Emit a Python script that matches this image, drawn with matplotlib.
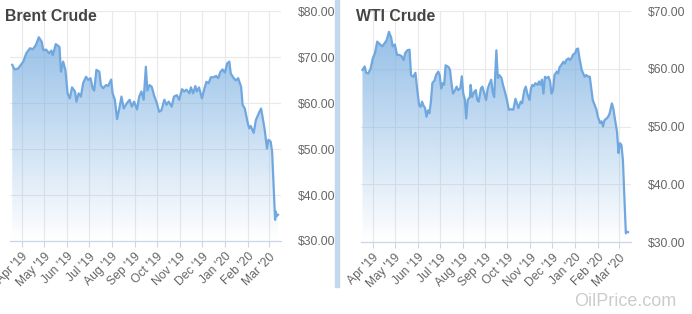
import matplotlib
matplotlib.use('Agg')
import matplotlib.pyplot as plt
import matplotlib.dates as mdates
import numpy as np
import pandas as pd
from matplotlib.patches import Rectangle

plt.rcParams['font.family'] = ['Liberation Sans', 'DejaVu Sans']

# ---------------- data ----------------
brent_dates = [
    "2019-03-19", "2019-03-22", "2019-03-27", "2019-04-03", "2019-04-07", "2019-04-12",
    "2019-04-16", "2019-04-20", "2019-04-24", "2019-04-28", "2019-04-30", "2019-05-04",
    "2019-05-08", "2019-05-11", "2019-05-13", "2019-05-17", "2019-05-22", "2019-05-24",
    "2019-05-27", "2019-05-30", "2019-06-02", "2019-06-05", "2019-06-08", "2019-06-12",
    "2019-06-14", "2019-06-17", "2019-06-20", "2019-06-23", "2019-06-27", "2019-06-30",
    "2019-07-03", "2019-07-06", "2019-07-08", "2019-07-11", "2019-07-15", "2019-07-17",
    "2019-07-20", "2019-07-24", "2019-07-27", "2019-07-31", "2019-08-02", "2019-08-05",
    "2019-08-08", "2019-08-11", "2019-08-14", "2019-08-17", "2019-08-21", "2019-08-25",
    "2019-08-28", "2019-08-31", "2019-09-04", "2019-09-07", "2019-09-10", "2019-09-13",
    "2019-09-16", "2019-09-18", "2019-09-21", "2019-09-24", "2019-09-27", "2019-10-01",
    "2019-10-04", "2019-10-07", "2019-10-11", "2019-10-14", "2019-10-17", "2019-10-21",
    "2019-10-24", "2019-10-28", "2019-10-31", "2019-11-04", "2019-11-07", "2019-11-10",
    "2019-11-14", "2019-11-16", "2019-11-19", "2019-11-22", "2019-11-24", "2019-11-27",
    "2019-12-01", "2019-12-04", "2019-12-07", "2019-12-10", "2019-12-13", "2019-12-17",
    "2019-12-20", "2019-12-23", "2019-12-26", "2019-12-29", "2020-01-01", "2020-01-04",
    "2020-01-07", "2020-01-09", "2020-01-13", "2020-01-16", "2020-01-19", "2020-01-23",
    "2020-01-25", "2020-01-28", "2020-02-01", "2020-02-03", "2020-02-05", "2020-02-09",
    "2020-02-12", "2020-02-16", "2020-02-19", "2020-02-21", "2020-02-24", "2020-02-27",
    "2020-02-29", "2020-03-03", "2020-03-05", "2020-03-09", "2020-03-10", "2020-03-11",
    "2020-03-13",
]
brent_values = [
    68.3, 67.3, 67.5, 69.0, 70.8, 71.9,
    71.7, 72.6, 74.3, 73.3, 71.5, 71.6,
    70.8, 71.4, 70.4, 72.8, 72.2, 66.8,
    69.0, 67.2, 62.1, 61.0, 63.4, 62.5,
    60.3, 62.1, 61.4, 64.3, 65.7, 65.0,
    65.4, 63.2, 62.7, 67.2, 66.8, 63.9,
    63.2, 63.9, 63.7, 65.1, 62.1, 60.7,
    56.5, 58.8, 61.4, 58.8, 59.9, 60.7,
    59.2, 60.3, 58.6, 61.4, 62.5, 60.7,
    67.9, 62.7, 63.9, 63.5, 61.7, 59.9,
    58.1, 58.4, 60.7, 59.6, 60.3, 59.2,
    61.4, 61.7, 60.7, 63.0, 62.5, 62.9,
    62.1, 63.4, 62.1, 63.7, 62.5, 63.4,
    61.0, 63.0, 64.6, 64.3, 65.6, 65.6,
    65.9, 65.4, 66.8, 67.3, 66.6, 68.6,
    69.0, 66.4, 65.4, 64.9, 65.4, 63.5,
    59.6, 58.8, 55.6, 54.5, 55.0, 53.5,
    56.3, 57.8, 58.8, 57.0, 54.1, 50.1,
    52.0, 51.6, 49.4, 34.6, 36.4, 35.4,
    35.7,
]

wti_dates = [
    "2019-03-18", "2019-03-21", "2019-03-23", "2019-03-26", "2019-03-29", "2019-04-01",
    "2019-04-04", "2019-04-07", "2019-04-11", "2019-04-14", "2019-04-17", "2019-04-20",
    "2019-04-23", "2019-04-26", "2019-04-28", "2019-05-01", "2019-05-04", "2019-05-07",
    "2019-05-10", "2019-05-13", "2019-05-15", "2019-05-18", "2019-05-21", "2019-05-23",
    "2019-05-26", "2019-05-29", "2019-05-31", "2019-06-03", "2019-06-05", "2019-06-07",
    "2019-06-09", "2019-06-11", "2019-06-13", "2019-06-15", "2019-06-17", "2019-06-19",
    "2019-06-21", "2019-06-24", "2019-06-26", "2019-06-29", "2019-07-01", "2019-07-03",
    "2019-07-05", "2019-07-07", "2019-07-09", "2019-07-13", "2019-07-15", "2019-07-17",
    "2019-07-19", "2019-07-22", "2019-07-24", "2019-07-26", "2019-07-29", "2019-07-31",
    "2019-08-02", "2019-08-04", "2019-08-06", "2019-08-08", "2019-08-11", "2019-08-12",
    "2019-08-14", "2019-08-17", "2019-08-19", "2019-08-21", "2019-08-23", "2019-08-26",
    "2019-08-28", "2019-08-30", "2019-09-02", "2019-09-04", "2019-09-06", "2019-09-09",
    "2019-09-11", "2019-09-13", "2019-09-16", "2019-09-18", "2019-09-20", "2019-09-23",
    "2019-09-25", "2019-09-27", "2019-09-30", "2019-10-03", "2019-10-06", "2019-10-09",
    "2019-10-12", "2019-10-14", "2019-10-16", "2019-10-19", "2019-10-21", "2019-10-24",
    "2019-10-26", "2019-10-28", "2019-10-31", "2019-11-02", "2019-11-04", "2019-11-06",
    "2019-11-08", "2019-11-11", "2019-11-13", "2019-11-15", "2019-11-17", "2019-11-19",
    "2019-11-21", "2019-11-23", "2019-11-26", "2019-11-28", "2019-11-30", "2019-12-02",
    "2019-12-04", "2019-12-07", "2019-12-09", "2019-12-11", "2019-12-13", "2019-12-16",
    "2019-12-18", "2019-12-20", "2019-12-23", "2019-12-25", "2019-12-27", "2019-12-29",
    "2020-01-01", "2020-01-03", "2020-01-05", "2020-01-07", "2020-01-10", "2020-01-12",
    "2020-01-14", "2020-01-16", "2020-01-18", "2020-01-21", "2020-01-23", "2020-01-25",
    "2020-01-28", "2020-01-30", "2020-02-01", "2020-02-04", "2020-02-06", "2020-02-08",
    "2020-02-10", "2020-02-13", "2020-02-15", "2020-02-17", "2020-02-20", "2020-02-22",
    "2020-02-24", "2020-02-27", "2020-02-29", "2020-03-02", "2020-03-04", "2020-03-06",
    "2020-03-09", "2020-03-10", "2020-03-11", "2020-03-13",
]
wti_values = [
    59.8, 60.4, 59.3, 59.2, 60.0, 61.8,
    62.7, 64.7, 64.2, 63.9, 64.4, 65.0,
    66.4, 65.4, 63.9, 64.2, 62.4, 62.4,
    62.2, 61.5, 62.7, 63.2, 63.3, 58.9,
    58.6, 59.3, 56.9, 53.7, 53.4, 54.3,
    53.6, 53.2, 51.7, 52.8, 52.3, 54.3,
    57.5, 58.0, 58.9, 59.5, 58.9, 56.6,
    57.5, 57.2, 60.6, 60.3, 59.8, 57.5,
    55.7, 56.3, 56.9, 56.3, 56.6, 58.7,
    55.7, 54.8, 51.4, 54.6, 55.1, 57.2,
    55.1, 56.0, 56.3, 54.6, 54.3, 56.6,
    56.9, 56.0, 54.6, 56.4, 57.2, 58.1,
    56.0, 55.1, 63.2, 58.4, 58.9, 58.4,
    57.2, 56.3, 54.8, 52.9, 53.0, 52.9,
    54.8, 54.0, 53.2, 54.3, 54.0, 56.3,
    56.9, 55.7, 54.6, 56.6, 57.2, 57.0,
    57.5, 57.2, 57.8, 57.2, 58.1, 55.7,
    58.6, 58.4, 58.6, 57.8, 55.7, 56.3,
    58.9, 59.5, 59.2, 60.3, 60.6, 61.2,
    60.9, 61.5, 61.8, 61.5, 61.8, 62.4,
    62.7, 63.4, 63.5, 61.8, 59.8, 59.2,
    58.6, 58.9, 58.7, 58.6, 56.6, 54.6,
    53.6, 52.9, 51.7, 50.6, 50.9, 50.0,
    51.1, 51.4, 51.7, 52.3, 54.0, 53.1,
    51.4, 49.1, 45.4, 47.1, 46.8, 44.2,
    34.4, 31.5, 31.8, 31.7,
]

month_ticks = ["2019-04-01", "2019-05-01", "2019-06-01", "2019-07-01", "2019-08-01",
               "2019-09-01", "2019-10-01", "2019-11-01", "2019-12-01", "2020-01-01",
               "2020-02-01", "2020-03-01"]
month_labels = ["Apr '19", "May '19", "Jun '19", "Jul '19", "Aug '19", "Sep '19",
                "Oct '19", "Nov '19", "Dec '19", "Jan '20", "Feb '20", "Mar '20"]
x_range = ["2019-03-16", "2020-03-17"]
brent_yticks = [30, 40, 50, 60, 70, 80]
wti_yticks = [30, 40, 50, 60, 70]

LINE = '#6fa7de'
FILL_RGB = (0.47, 0.68, 0.88)
LABEL = '#666666'
AXIS = '#ccd6eb'
GRID = '#e9e9e9'

W, H = 692, 314
fig = plt.figure(figsize=(W / 100, H / 100), dpi=100)


def panel(rect, dates, values, yticks, title, title_xpx):
    ax = fig.add_axes(rect)
    x = mdates.date2num(pd.to_datetime(dates))
    xl = mdates.date2num(pd.to_datetime(x_range))
    y0, y1 = yticks[0], yticks[-1]

    poly = ax.fill_between(x, values, y0, facecolor='none', edgecolor='none')
    grad = np.zeros((256, 1, 4))
    grad[:, 0, 0] = FILL_RGB[0]
    grad[:, 0, 1] = FILL_RGB[1]
    grad[:, 0, 2] = FILL_RGB[2]
    grad[:, 0, 3] = np.linspace(0.85, 0.0, 256)
    im = ax.imshow(grad, extent=[xl[0], xl[1], y0, y1], aspect='auto',
                   origin='upper', zorder=2, interpolation='bilinear')
    im.set_clip_path(poly.get_paths()[0], transform=ax.transData)

    ax.plot(x, values, color=LINE, lw=1.6, zorder=3, solid_joinstyle='round')

    ax.set_xlim(xl[0], xl[1])
    ax.set_ylim(y0, y1)

    ax.set_xticks(mdates.date2num(pd.to_datetime(month_ticks)))
    ax.set_xticklabels(month_labels)
    for lab in ax.get_xticklabels():
        lab.set_rotation(45)
        lab.set_ha('right')
        lab.set_va('top')
        lab.set_rotation_mode('anchor')
    ax.tick_params(axis='x', length=4, width=0.8, color=AXIS, labelsize=8.7,
                   labelcolor=LABEL, pad=3)

    ax.yaxis.tick_right()
    ax.set_yticks(yticks)
    ax.set_yticklabels([f'${v:.2f}' for v in yticks])
    ax.tick_params(axis='y', length=0, labelsize=8.7, labelcolor=LABEL, pad=12)

    ax.grid(True, color=GRID, lw=0.8, zorder=0)
    ax.set_axisbelow(True)
    for s in ['top', 'left', 'right']:
        ax.spines[s].set_visible(False)
    ax.spines['bottom'].set_color(AXIS)
    ax.spines['bottom'].set_linewidth(0.9)
    ax.patch.set_alpha(0)

    fig.text(title_xpx / W, 1 - 16.5 / H, title, ha='left', va='center',
             fontsize=11.4, fontweight='bold', color='#444444')
    return ax


panel([10 / W, 1 - 241 / H, 271 / W, 230 / H], brent_dates, brent_values,
      brent_yticks, 'Brent Crude', 5)
panel([361 / W, 1 - 242 / H, 270 / W, 231 / H], wti_dates, wti_values,
      wti_yticks, 'WTI Crude', 356)

# separator bar
fig.patches.append(Rectangle((335 / W, 1 - 287 / H), 4 / W, 287 / H,
                             transform=fig.transFigure, color='#c3d8ec', zorder=0))

fig.text(676 / W, 1 - 301 / H, 'OilPrice.com', ha='right', va='center',
         fontsize=13, color='#cccccc')

fig.savefig('out.png', dpi=100)
